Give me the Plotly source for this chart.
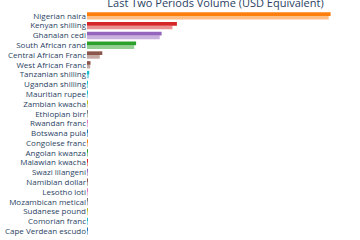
import plotly.graph_objects as go

currencies = [
    "Nigerian naira", "Kenyan shilling", "Ghanaian cedi", "South African rand",
    "Central African Franc", "West African Franc", "Tanzanian shilling",
    "Ugandan shilling", "Mauritian rupee", "Zambian kwacha", "Ethiopian birr",
    "Rwandan franc", "Botswana pula", "Congolese franc", "Angolan kwanza",
    "Malawian kwacha", "Swazi lilangeni", "Namibian dollar", "Lesotho loti",
    "Mozambican metical", "Sudanese pound", "Comorian franc", "Cape Verdean escudo",
]
latest_period = [38.2e6, 14.1e6, 11.7e6, 7.7e6, 2.4e6, 0.55e6, 0.35e6,
                 0.15e6, 0.08e6, 0.04e6, 0.02e6, 0.015e6, 0.01e6, 0.008e6, 0.006e6,
                 0.005e6, 0.004e6, 0.003e6, 0.002e6, 0.002e6, 0.001e6, 0.001e6, 0.001e6]
previous_period = [37.9e6, 13.4e6, 11.4e6, 7.4e6, 2.0e6, 0.5e6, 0.3e6,
                   0.12e6, 0.06e6, 0.03e6, 0.02e6, 0.012e6, 0.008e6, 0.006e6, 0.005e6,
                   0.004e6, 0.003e6, 0.002e6, 0.002e6, 0.001e6, 0.001e6, 0.001e6, 0.001e6]
colors = ["#FF7F0E", "#D62728", "#9467BD", "#2CA02C", "#8C564B", "#8C564B", "#17BECF",
          "#17BECF", "#17BECF", "#BCBD22", "#7F7F7F", "#E377C2", "#1F77B4", "#FF7F0E",
          "#2CA02C", "#D62728", "#9467BD", "#8C564B", "#E377C2", "#7F7F7F", "#BCBD22",
          "#17BECF", "#1F77B4"]
x_ticks = [0, 10e6, 20e6, 30e6, 40e6]
x_tick_labels = ["0", "10M", "20M", "30M", "40M"]

fig = go.Figure()
fig.add_trace(go.Bar(y=currencies, x=latest_period, orientation="h",
                     marker=dict(color=colors, line=dict(width=0)), name="Latest"))
fig.add_trace(go.Bar(y=currencies, x=previous_period, orientation="h",
                     marker=dict(color=colors, line=dict(width=0)), opacity=0.5,
                     name="Previous"))

fig.update_layout(
    width=360, height=240,
    margin=dict(l=87, r=16, t=11, b=4),
    barmode="group", bargap=0.25, bargroupgap=0.0,
    showlegend=False,
    paper_bgcolor="white", plot_bgcolor="white",
    font=dict(family="Open Sans", color="#2a3f5f", size=8),
    title=dict(text="Last Two Periods Volume (USD Equivalent)", x=0.5, xref="paper",
               xanchor="center", y=0.988, yref="container", yanchor="middle",
               font=dict(size=11, color="#2a3f5f")),
)
fig.update_yaxes(autorange="reversed", showgrid=False, zeroline=False, showline=False,
                 ticks="", automargin=False, tickfont=dict(size=8),
                 tickmode="array", tickvals=currencies, ticktext=currencies,
                 ticklabelstandoff=0)
fig.update_xaxes(range=[0, 40.3e6], showgrid=False, zeroline=False, showline=False,
                 tickvals=x_ticks, ticktext=x_tick_labels, automargin=False,
                 tickfont=dict(size=8))

fig.write_html("out.html")
